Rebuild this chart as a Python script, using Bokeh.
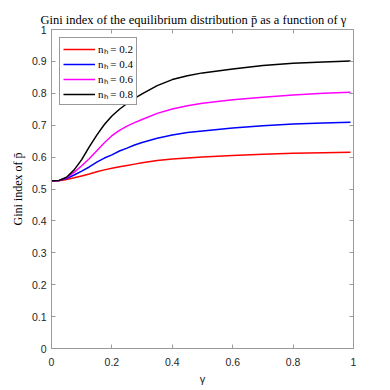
from bokeh.plotting import figure
from bokeh.models import Range1d, LinearAxis, FixedTicker, Legend, LegendItem
from bokeh.embed import file_html
from bokeh.resources import INLINE

gamma = [0, 0.025, 0.05, 0.075, 0.1, 0.125, 0.15, 0.175, 0.2, 0.225, 0.25, 0.275,
         0.3, 0.35, 0.4, 0.45, 0.5, 0.6, 0.7, 0.8, 0.9, 0.99]
gini_02 = [0.526, 0.526, 0.530, 0.535, 0.541, 0.547, 0.554, 0.560, 0.565, 0.570, 0.574, 0.578,
           0.582, 0.589, 0.594, 0.597, 0.600, 0.605, 0.609, 0.612, 0.614, 0.615]
gini_04 = [0.526, 0.527, 0.533, 0.544, 0.556, 0.569, 0.584, 0.597, 0.607, 0.619, 0.628, 0.638,
           0.646, 0.659, 0.669, 0.677, 0.682, 0.691, 0.698, 0.704, 0.707, 0.709]
gini_06 = [0.526, 0.527, 0.535, 0.552, 0.573, 0.595, 0.620, 0.645, 0.667, 0.684, 0.697, 0.708,
           0.718, 0.737, 0.751, 0.761, 0.769, 0.780, 0.788, 0.795, 0.800, 0.803]
gini_08 = [0.526, 0.527, 0.537, 0.560, 0.592, 0.632, 0.669, 0.702, 0.729, 0.750, 0.768, 0.784,
           0.798, 0.824, 0.843, 0.855, 0.864, 0.876, 0.887, 0.894, 0.898, 0.901]

series = [("nₕ = 0.2", gini_02, "#ff0000"),
          ("nₕ = 0.4", gini_04, "#0000ff"),
          ("nₕ = 0.6", gini_06, "#ff00ff"),
          ("nₕ = 0.8", gini_08, "#000000")]

x_ticks = [0, 0.2, 0.4, 0.6, 0.8, 1]
y_ticks = [0, 0.1, 0.2, 0.3, 0.4, 0.5, 0.6, 0.7, 0.8, 0.9, 1]

AX = "#9a9a9a"
TXT = "#262626"

p = figure(width=390, height=390, output_backend="svg", toolbar_location=None,
           x_range=Range1d(0, 1), y_range=Range1d(0, 1),
           min_border_left=51, min_border_right=37, min_border_top=29, min_border_bottom=42,
           title="Gini index of the equilibrium distribution p̄ as a function of γ")
p.title.text_font = "Liberation Serif"
p.title.text_font_size = "12.5px"
p.title.text_font_style = "normal"
p.title.align = "left"
p.title.offset = -11
p.title.text_color = "#000000"
p.title.standoff = 5

p.xgrid.visible = False
p.ygrid.visible = False
p.outline_line_color = AX
p.outline_line_width = 1
p.background_fill_color = "white"
p.border_fill_color = "white"

def style_axis(ax, ticks, show_labels=True):
    ax.ticker = FixedTicker(ticks=ticks)
    ax.minor_tick_line_color = None
    ax.major_tick_in = 4
    ax.major_tick_out = 0
    ax.axis_line_color = AX
    ax.major_tick_line_color = AX
    ax.major_label_text_font = "Liberation Sans"
    ax.major_label_text_font_size = "10.5px"
    ax.major_label_text_color = TXT
    if not show_labels:
        ax.major_label_overrides = {t: "" for t in ticks}
        ax.major_label_standoff = 0

style_axis(p.xaxis[0], x_ticks)
style_axis(p.yaxis[0], y_ticks)
p.xaxis[0].major_label_overrides = {0: "0", 1: "1"}
p.yaxis[0].major_label_overrides = {0: "0", 1: "1"}
p.xaxis[0].major_label_standoff = 9
p.yaxis[0].major_label_standoff = 5

p.xaxis[0].axis_label = "γ"
p.xaxis[0].axis_label_text_font = "Liberation Sans"
p.xaxis[0].axis_label_text_font_style = "normal"
p.xaxis[0].axis_label_text_font_size = "11px"
p.xaxis[0].axis_label_text_color = TXT
p.xaxis[0].axis_label_standoff = 4

p.yaxis[0].axis_label = "Gini index of p̄"
p.yaxis[0].axis_label_text_font = "Liberation Serif"
p.yaxis[0].axis_label_text_font_style = "normal"
p.yaxis[0].axis_label_text_font_size = "12px"
p.yaxis[0].axis_label_text_color = "#000000"
p.yaxis[0].axis_label_standoff = 4

top = LinearAxis()
style_axis(top, x_ticks, show_labels=False)
right = LinearAxis()
style_axis(right, y_ticks, show_labels=False)
p.add_layout(top, "above")
p.add_layout(right, "right")

items = []
for label, vals, color in series:
    r = p.line(gamma, vals, line_color=color, line_width=1.5, line_join="round")
    items.append(LegendItem(label=label, renderers=[r]))

legend = Legend(items=items, location="top_left")
legend.margin = 8
legend.padding = 3
legend.spacing = 0
legend.glyph_width = 32
legend.glyph_height = 12
legend.label_height = 12
legend.label_standoff = 3
legend.label_text_font = "Liberation Serif"
legend.label_text_font_size = "11px"
legend.label_text_color = "#000000"
legend.border_line_color = "#333333"
legend.border_line_width = 1
legend.background_fill_color = "white"
legend.background_fill_alpha = 1
p.add_layout(legend, "center")

open("out.html", "w").write(file_html(p, INLINE))
